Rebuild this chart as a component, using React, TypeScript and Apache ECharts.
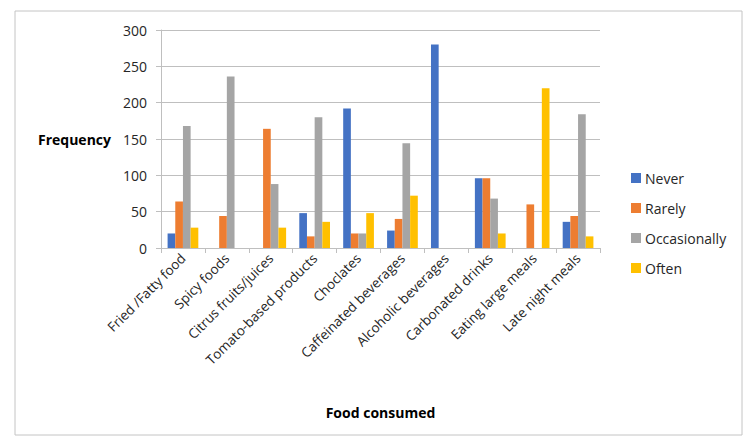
import React, { useEffect, useRef } from "react";
import * as echarts from "echarts";

const categories = [
  "Fried /Fatty food",
  "Spicy foods",
  "Citrus fruits/juices",
  "Tomato-based products",
  "Choclates",
  "Caffeinated beverages",
  "Alcoholic beverages",
  "Carbonated drinks",
  "Eating large meals",
  "Late night meals",
];
const never = [20, 0, 0, 48, 192, 24, 280, 96, 0, 36];
const rarely = [64, 44, 164, 16, 20, 40, 0, 96, 60, 44];
const occasionally = [168, 236, 88, 180, 20, 144, 0, 68, 0, 184];
const often = [28, 0, 28, 36, 48, 72, 0, 20, 220, 16];

const seriesNames = ["Never", "Rarely", "Occasionally", "Often"];
const seriesColors = ["#4472c4", "#ed7d31", "#a5a5a5", "#ffc000"];
const seriesData = [never, rarely, occasionally, often];

const FONT = "'Open Sans', 'Noto Sans', sans-serif";

export default function App() {
  const ref = useRef<HTMLDivElement>(null);
  useEffect(() => {
    if (!ref.current) return;
    const chart = echarts.init(ref.current, null, { renderer: "svg" });
    chart.setOption({
      animation: false,
      backgroundColor: "#ffffff",
      textStyle: { fontFamily: FONT },
      graphic: [
        {
          type: "rect",
          shape: { x: 15, y: 11, width: 727, height: 424 },
          style: { fill: "none", stroke: "#c4c4c4", lineWidth: 1 },
          silent: true,
        },
      ],
      grid: { left: 161, right: 150, top: 30, bottom: 199, containLabel: false },
      legend: {
        orient: "vertical",
        left: 626,
        top: 166,
        icon: "rect",
        itemWidth: 10,
        itemHeight: 10,
        itemGap: 16,
        data: seriesNames,
        textStyle: { fontFamily: FONT, fontSize: 14, color: "#262626", padding: [0, 0, 0, -1] },
      },
      xAxis: {
        type: "category",
        data: categories,
        name: "Food consumed",
        nameLocation: "middle",
        nameGap: 157,
        nameTextStyle: { fontFamily: FONT, fontSize: 14, fontWeight: "bold", color: "#000" },
        axisLine: { lineStyle: { color: "#bfbfbf" } },
        axisTick: { show: true, length: 5, lineStyle: { color: "#bfbfbf" } },
        axisLabel: {
          rotate: 45,
          interval: 0,
          margin: 8,
          fontFamily: FONT,
          fontSize: 13.5,
          color: "#262626",
        },
      },
      yAxis: {
        type: "value",
        min: 0,
        max: 300,
        interval: 50,
        name: "Frequency",
        nameLocation: "middle",
        nameRotate: 0,
        nameGap: 50,
        nameTextStyle: { fontFamily: FONT, fontSize: 14, fontWeight: "bold", color: "#000" },
        axisLine: { show: true, lineStyle: { color: "#bfbfbf" } },
        axisTick: { show: true, length: 5, lineStyle: { color: "#bfbfbf" } },
        splitLine: { lineStyle: { color: "#bfbfbf" } },
        axisLabel: { fontFamily: FONT, fontSize: 14, color: "#262626", margin: 14 },
      },
      series: seriesNames.map((name, i) => ({
        name,
        type: "bar",
        data: seriesData[i],
        barGap: "0%",
        barCategoryGap: "30%",
        itemStyle: { color: seriesColors[i] },
      })),
    });
    return () => chart.dispose();
  }, []);
  return (
    <div
      ref={ref}
      style={{ position: "fixed", left: 0, top: 0, width: 750, height: 447 }}
    />
  );
}
